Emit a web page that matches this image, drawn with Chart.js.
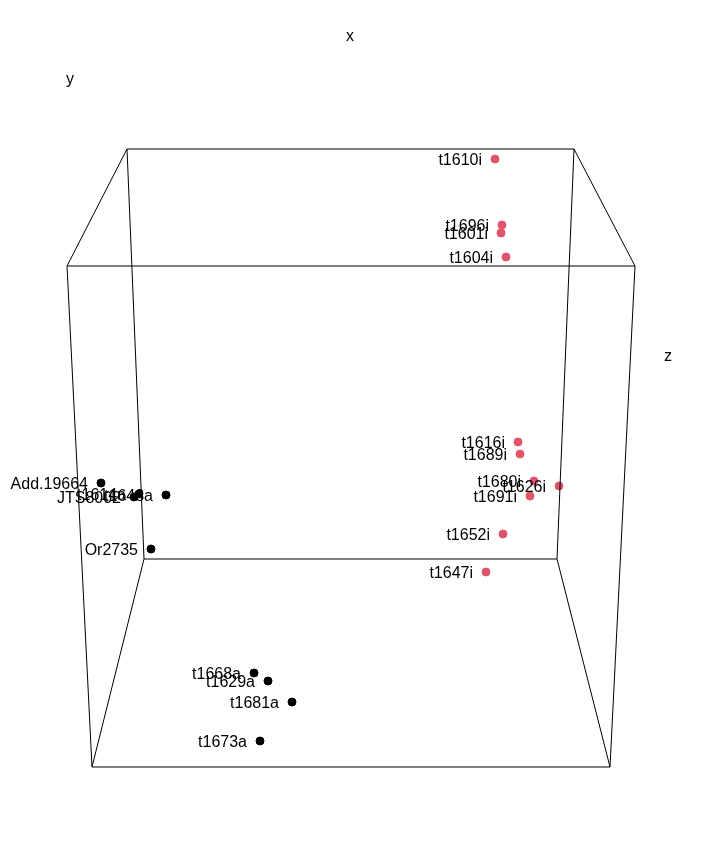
<!DOCTYPE html>
<html>
<head>
<meta charset="utf-8">
<script src="https://cdn.jsdelivr.net/npm/chart.js@4/dist/chart.umd.min.js"></script>
<style>
html,body{margin:0;padding:0;background:#fff;overflow:hidden;}
#wrap{width:709px;height:854px;}
</style>
</head>
<body>
<div id="wrap"><canvas id="c" width="709" height="854"></canvas></div>
<script>
// Projected (screen-space) positions of the 3D scatter points
const redLabels = ["t1610i","t1696i","t1601i","t1604i","t1616i","t1689i","t1680i","t1626i","t1691i","t1652i","t1647i"];
const redX = [495,502,501,506,518,520,534,559,530,503,486];
const redY = [159,225,233,257,442,454,481,486,496,534,572];

const blackLabels = ["Add.19664","JTS8002","t1614a","t1648a","Or2735","t1668a","t1629a","t1681a","t1673a"];
const blackX = [101,134,139,166,151,254,268,292,260];
const blackY = [483,497,494,495,549,673,681,702,741];

// Bounding box corners (projected) and edges
const boxCornerX = [127,574,557,144, 67,635,610,92];
const boxCornerY = [149,149,559,559,266,266,767,767];
const boxEdges = [[0,1],[1,2],[2,3],[3,0],[4,5],[5,6],[6,7],[7,4],[0,4],[1,5],[2,6],[3,7]];

// Axis labels
const axisNames = ["x","y","z"];
const axisNameX = [350,70,668];
const axisNameY = [37,80,357];

const edgeDatasets = boxEdges.map(e => ({
  type: 'line',
  data: e.map(i => ({x: boxCornerX[i], y: boxCornerY[i]})),
  borderColor: '#000',
  borderWidth: 1,
  pointRadius: 0,
  fill: false,
  tension: 0,
  showLine: true,
  isEdge: true
}));

const redData = redX.map((x,i)=>({x, y: redY[i], label: redLabels[i]}));
const blackData = blackX.map((x,i)=>({x, y: blackY[i], label: blackLabels[i]}));

const labelPlugin = {
  id: 'labels3d',
  afterDatasetsDraw(chart) {
    const ctx = chart.ctx;
    ctx.save();
    ctx.font = '16px "Liberation Sans", Arial, sans-serif';
    ctx.fillStyle = '#000';
    ctx.textAlign = 'right';
    ctx.textBaseline = 'middle';
    chart.data.datasets.forEach((ds, di) => {
      if (ds.isEdge) return;
      const meta = chart.getDatasetMeta(di);
      meta.data.forEach((pt, i) => {
        ctx.fillText(ds.data[i].label, pt.x - 13, pt.y + 2);
      });
    });
    const xs = chart.scales.x, ys = chart.scales.y;
    ctx.textAlign = 'center';
    axisNames.forEach((n, i) => {
      ctx.fillText(n, xs.getPixelForValue(axisNameX[i]), ys.getPixelForValue(axisNameY[i]));
    });
    ctx.restore();
  }
};

new Chart(document.getElementById('c'), {
  type: 'scatter',
  data: {
    datasets: [
      ...edgeDatasets,
      {
        data: redData,
        backgroundColor: '#DF536B',
        borderColor: '#DF536B',
        pointRadius: 4,
        pointHoverRadius: 4,
        showLine: false
      },
      {
        data: blackData,
        backgroundColor: '#000',
        borderColor: '#000',
        pointRadius: 4,
        pointHoverRadius: 4,
        showLine: false
      }
    ]
  },
  options: {
    responsive: false,
    animation: false,
    layout: {padding: 0, autoPadding: false},
    plugins: {legend: {display: false}, tooltip: {enabled: false}},
    events: [],
    scales: {
      x: {type: 'linear', min: 0, max: 709, display: false},
      y: {type: 'linear', min: 0, max: 854, reverse: true, display: false}
    }
  },
  plugins: [labelPlugin]
});
</script>
</body>
</html>
